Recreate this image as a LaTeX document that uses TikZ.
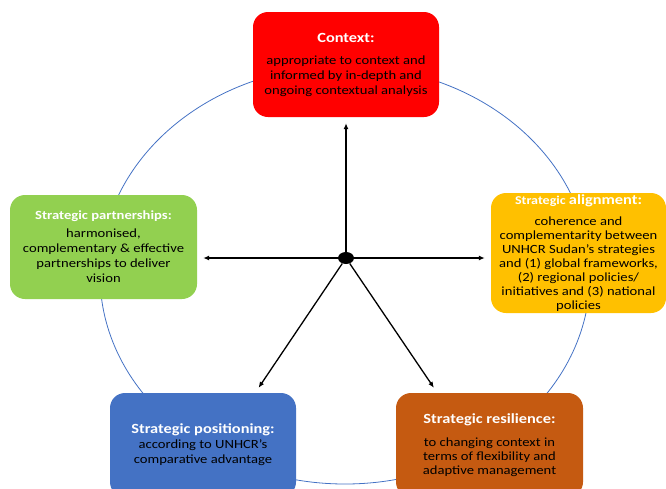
\documentclass[tikz,border=0pt]{standalone}
\usepackage{fontspec}
\setmainfont{Carlito}[FakeStretch=1.17]
\usepackage{xcolor}
\usetikzlibrary{arrows.meta, shapes.geometric}

\definecolor{ctxred}{HTML}{FF0000}
\definecolor{alignamber}{HTML}{FFC000}
\definecolor{partgreen}{HTML}{92D050}
\definecolor{posblue}{HTML}{4472C4}
\definecolor{resrust}{HTML}{C55A11}

% white bold heading inside a card, optional point size
\newcommand{\hd}[2][14]{{\fontsize{#1}{15}\selectfont\bfseries\color{white}#2}}

\begin{document}
\begin{tikzpicture}[x=1pt, y=-1pt, every node/.style={font=\fontsize{12.5}{15}\selectfont}]
  \def\CW{186}
  \def\CH{104}
  \tikzset{
    card/.style={rectangle, rounded corners=15pt, inner sep=0pt, align=center, text=black,
                 minimum width=\CW, minimum height=\CH},
    rim/.style={draw=posblue, line width=0.8pt},
    spoke/.style={black, line width=1.3pt, -{Latex[length=6pt, width=5pt]}, shorten >=6pt},
    hub/.style={ellipse, fill=black, minimum width=16pt, minimum height=12pt, inner sep=0pt},
  }
  \useasboundingbox (0,0) rectangle (666,488);

  %% ===== Outer ring behind the cards =====
  \draw[rim] (345,275) ellipse [x radius=245, y radius=209];

  %% ===== The five cards =====
  \node[card, fill=ctxred, minimum height=105] (ctx) at (346,64.5)
    {\hd{Context:}\\[7pt]
     appropriate to context and\\ informed by in-depth and\\ ongoing contextual analysis};
  \node[card, fill=alignamber, minimum width=175, minimum height=120,
        font=\fontsize{12.5}{14}\selectfont] (align) at (578.5,253)
    {\hd[12]{Strategic }\hd{alignment:}\\[7pt]
     coherence and\\ complementarity between\\ UNHCR Sudan’s strategies\\
     and (1) global frameworks,\\ (2) regional policies/\\ initiatives and (3) national\\ policies};
  \node[card, fill=partgreen, minimum width=187] (part) at (103.5,247)
    {\hd[12.5]{Strategic partnerships:}\\[3pt]
     harmonised,\\ complementary \& effective\\ partnerships to deliver\\ vision};
  \node[card, fill=posblue] (pos) at (203,445)
    {\hd{Strategic positioning:}\\
     according to UNHCR’s\\ comparative advantage};
  \node[card, fill=resrust, minimum width=187, font=\fontsize{12.5}{14}\selectfont] (res) at (489.5,445)
    {\hd{Strategic resilience:}\\[9pt]
     to changing context in\\ terms of flexibility and\\ adaptive management};

  %% ===== Hub and spokes =====
  \node[hub] (hub) at (346,258) {};
  \draw[spoke] (hub) -- (ctx);
  \draw[spoke] (hub) -- (part.east |- hub);
  \draw[spoke] (hub) -- (align.west |- hub);
  \draw[spoke] (hub) -- (pos.45);
  \draw[spoke] (hub) -- (res.135);
\end{tikzpicture}
\end{document}
